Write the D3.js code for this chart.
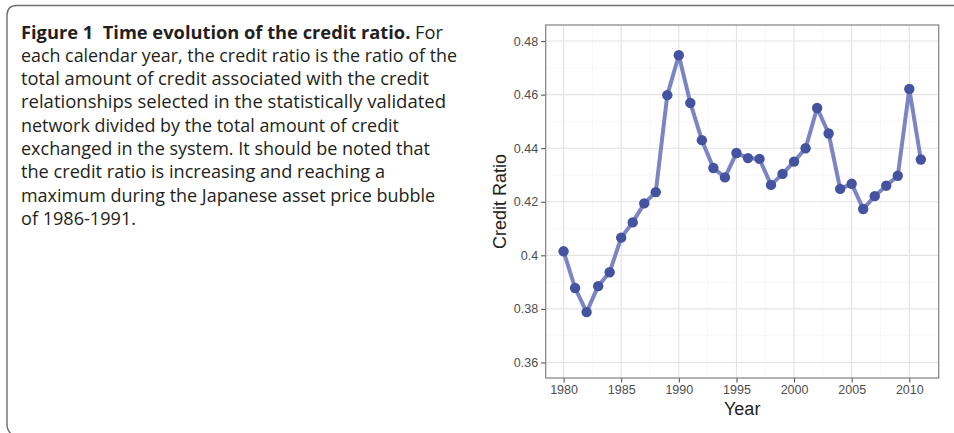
<!DOCTYPE html>
<html>
<head>
<meta charset="utf-8">
<script src="https://cdn.jsdelivr.net/npm/d3@7"></script>
<style>
  html, body { margin: 0; padding: 0; background: #fff; }
  svg { display: block; }
</style>
</head>
<body>
<svg id="fig" width="954" height="433"></svg>
<script>
// Credit ratio per calendar year
const years = [1980, 1981, 1982, 1983, 1984, 1985, 1986, 1987, 1988, 1989,
               1990, 1991, 1992, 1993, 1994, 1995, 1996, 1997, 1998, 1999,
               2000, 2001, 2002, 2003, 2004, 2005, 2006, 2007, 2008, 2009,
               2010, 2011];
const creditRatio = [0.4015, 0.3878, 0.3788, 0.3885, 0.3937, 0.4066, 0.4123, 0.4194, 0.4236, 0.4598,
                     0.4747, 0.4569, 0.4430, 0.4326, 0.4291, 0.4382, 0.4363, 0.4360, 0.4263, 0.4304,
                     0.4350, 0.4400, 0.4550, 0.4455, 0.4248, 0.4267, 0.4173, 0.4221, 0.4260, 0.4297,
                     0.4621, 0.4358];
const xTicks = [1980, 1985, 1990, 1995, 2000, 2005, 2010];
const xMinor = [1982.5, 1987.5, 1992.5, 1997.5, 2002.5, 2007.5];
const yTicks = [0.36, 0.38, 0.40, 0.42, 0.44, 0.46, 0.48];
const yTickLabels = ["0.36", "0.38", "0.4", "0.42", "0.44", "0.46", "0.48"];
const yMinor = [0.37, 0.39, 0.41, 0.43, 0.45, 0.47];

// Caption lines: [bold part, regular part]
const captionLines = [
  ["Figure 1\u00a0\u00a0Time evolution of the credit ratio.", " For"],
  ["", "each calendar year, the credit ratio is the ratio of the"],
  ["", "total amount of credit associated with the credit"],
  ["", "relationships selected in the statistically validated"],
  ["", "network divided by the total amount of credit"],
  ["", "exchanged in the system. It should be noted that"],
  ["", "the credit ratio is increasing and reaching a"],
  ["", "maximum during the Japanese asset price bubble"],
  ["", "of 1986-1991."]
];
const captionWidths = [422, 436, 408, 425, 378, 409, 364, 414, 115];

const svg = d3.select("#fig");

// Figure frame (rounded box, open on the right)
svg.append("path")
  .attr("d", "M 960 5.5 L 17 5.5 Q 7 5.5 7 15.5 L 7 424 Q 7 432 14 436")
  .attr("fill", "none")
  .attr("stroke", "#6e6e6e")
  .attr("stroke-width", 1.4);

// Caption
const cap = svg.append("g")
  .attr("font-family", "'Open Sans', 'Noto Sans', sans-serif")
  .attr("font-size", 18)
  .attr("fill", "#231f20");
captionLines.forEach((ln, i) => {
  const t = cap.append("text")
    .attr("x", 21)
    .attr("y", 38.5 + i * 23.3)
    .attr("textLength", captionWidths[i])
    .attr("lengthAdjust", "spacingAndGlyphs");
  if (ln[0]) t.append("tspan").attr("font-weight", "bold").text(ln[0]);
  t.append("tspan").text(ln[1]);
});

// Plot panel
const panel = { left: 545.7, right: 938.7, top: 25, bottom: 378 };
const x = d3.scaleLinear().domain([1978.45, 2012.55]).range([panel.left, panel.right]);
const y = d3.scaleLinear().domain([0.3542, 0.4860]).range([panel.bottom, panel.top]);

const g = svg.append("g");

// minor grid
g.selectAll("line.xminor").data(xMinor).join("line")
  .attr("x1", d => x(d)).attr("x2", d => x(d))
  .attr("y1", panel.top).attr("y2", panel.bottom)
  .attr("stroke", "#f2f2f2").attr("stroke-width", 0.6);
g.selectAll("line.yminor").data(yMinor).join("line")
  .attr("y1", d => y(d)).attr("y2", d => y(d))
  .attr("x1", panel.left).attr("x2", panel.right)
  .attr("stroke", "#f2f2f2").attr("stroke-width", 0.6);
// major grid
g.selectAll("line.xmajor").data(xTicks).join("line")
  .attr("x1", d => x(d)).attr("x2", d => x(d))
  .attr("y1", panel.top).attr("y2", panel.bottom)
  .attr("stroke", "#e3e3e3").attr("stroke-width", 1.1);
g.selectAll("line.ymajor").data(yTicks).join("line")
  .attr("y1", d => y(d)).attr("y2", d => y(d))
  .attr("x1", panel.left).attr("x2", panel.right)
  .attr("stroke", "#e3e3e3").attr("stroke-width", 1.1);

// axes
const axisFont = "'Liberation Sans', Arial, sans-serif";
const xAxis = svg.append("g")
  .attr("transform", `translate(0,${panel.bottom})`)
  .call(d3.axisBottom(x).tickValues(xTicks).tickFormat(d3.format("d")).tickSize(4.5).tickPadding(3));
const yAxis = svg.append("g")
  .attr("transform", `translate(${panel.left},0)`)
  .call(d3.axisLeft(y).tickValues(yTicks).tickFormat((d, i) => yTickLabels[i]).tickSize(4.5).tickPadding(3));
[xAxis, yAxis].forEach(a => {
  a.attr("font-family", axisFont).attr("font-size", 12.5);
  a.select(".domain").remove();
  a.selectAll(".tick line").attr("stroke", "#444").attr("stroke-width", 1);
  a.selectAll(".tick text").attr("fill", "#4d4d4d");
});

// panel border
svg.append("rect")
  .attr("x", panel.left).attr("y", panel.top)
  .attr("width", panel.right - panel.left).attr("height", panel.bottom - panel.top)
  .attr("fill", "none").attr("stroke", "#808080").attr("stroke-width", 1.2);

// axis titles
svg.append("text")
  .attr("x", (panel.left + panel.right) / 2).attr("y", 415)
  .attr("text-anchor", "middle")
  .attr("font-family", axisFont).attr("font-size", 18).attr("fill", "#222")
  .text("Year");
svg.append("text")
  .attr("transform", `translate(506,${(panel.top + panel.bottom) / 2}) rotate(-90)`)
  .attr("text-anchor", "middle")
  .attr("font-family", axisFont).attr("font-size", 18).attr("fill", "#222")
  .text("Credit Ratio");

// series
const data = years.map((yr, i) => ({ year: yr, value: creditRatio[i] }));
svg.append("path")
  .datum(data)
  .attr("fill", "none")
  .attr("stroke", "#7c85c4")
  .attr("stroke-width", 4)
  .attr("stroke-linejoin", "round")
  .attr("d", d3.line().x(d => x(d.year)).y(d => y(d.value)));
svg.selectAll("circle.pt").data(data).join("circle")
  .attr("cx", d => x(d.year)).attr("cy", d => y(d.value))
  .attr("r", 5.2)
  .attr("fill", "#4453a0");
</script>
</body>
</html>
